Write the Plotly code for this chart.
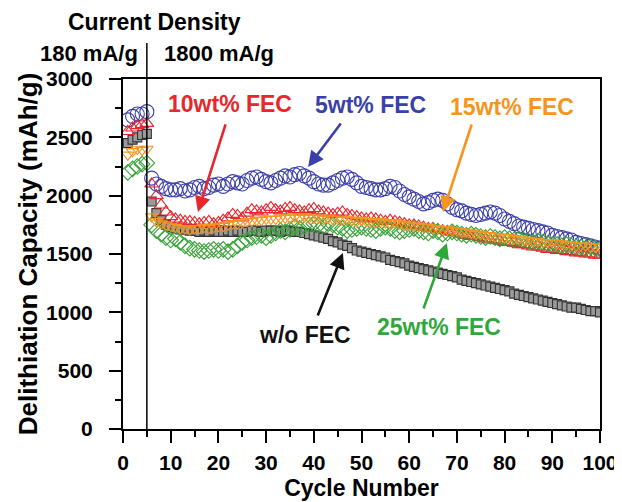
import plotly.graph_objects as go

cycles = list(range(1, 101))

wo_fec = [2450, 2480, 2500, 2520, 2530,
          1950, 1850, 1790, 1750, 1730,
          1720, 1710, 1710, 1700, 1700, 1690, 1700, 1690, 1700, 1690,
          1690, 1700, 1690, 1700, 1690, 1690, 1700, 1700, 1690, 1700,
          1700, 1700, 1690, 1700, 1700, 1690, 1690, 1680, 1670, 1660,
          1650, 1640, 1630, 1610, 1600, 1580, 1570, 1550, 1530, 1520,
          1510, 1500, 1490, 1480, 1470, 1450, 1440, 1430, 1420, 1400,
          1390, 1380, 1370, 1360, 1350, 1340, 1330, 1320, 1310, 1300,
          1280, 1270, 1260, 1250, 1240, 1230, 1220, 1210, 1200, 1190,
          1180, 1160, 1150, 1140, 1130, 1120, 1110, 1100, 1090, 1080,
          1070, 1060, 1050, 1040, 1040, 1030, 1020, 1010, 1010, 1000]

fec5 = [2650, 2680, 2700, 2700, 2720,
        2150, 2100, 2080, 2060, 2050,
        2050, 2060, 2040, 2050, 2070, 2080, 2060, 2070, 2090, 2100,
        2080, 2100, 2120, 2110, 2100, 2130, 2150, 2160, 2140, 2120,
        2110, 2130, 2150, 2170, 2160, 2180, 2190, 2170, 2150, 2120,
        2100, 2090, 2090, 2110, 2130, 2150, 2160, 2140, 2110, 2080,
        2070, 2060, 2050, 2050, 2060, 2080, 2070, 2040, 2010, 1990,
        1970, 1950, 1930, 1940, 1960, 1970, 1960, 1930, 1900, 1880,
        1870, 1850, 1840, 1830, 1840, 1850, 1860, 1850, 1830, 1800,
        1780, 1760, 1740, 1730, 1720, 1710, 1700, 1690, 1680, 1660,
        1650, 1640, 1630, 1620, 1600, 1590, 1580, 1570, 1560, 1550]

fec10 = [2550, 2580, 2600, 2610, 2620,
         2100, 2000, 1920, 1860, 1820,
         1800, 1790, 1780, 1780, 1770, 1760, 1770, 1780, 1760, 1770,
         1790, 1810, 1840, 1830, 1810, 1850, 1880, 1870, 1860, 1880,
         1900, 1880, 1870, 1890, 1900, 1880, 1870, 1860, 1880, 1890,
         1870, 1860, 1850, 1840, 1850, 1860, 1840, 1830, 1820, 1810,
         1800, 1810, 1800, 1790, 1780, 1790, 1780, 1770, 1760, 1750,
         1750, 1740, 1730, 1720, 1720, 1710, 1700, 1690, 1690, 1680,
         1670, 1660, 1650, 1650, 1640, 1630, 1620, 1620, 1610, 1600,
         1600, 1590, 1580, 1580, 1570, 1560, 1560, 1550, 1540, 1540,
         1530, 1530, 1520, 1520, 1510, 1510, 1500, 1500, 1490, 1490]

fec15 = [2350, 2380, 2400, 2390, 2400,
         1820, 1780, 1760, 1750, 1740,
         1730, 1720, 1720, 1710, 1720, 1720, 1730, 1720, 1730, 1740,
         1740, 1750, 1760, 1760, 1770, 1780, 1780, 1790, 1790, 1800,
         1800, 1800, 1810, 1810, 1810, 1820, 1810, 1820, 1810, 1810,
         1810, 1800, 1810, 1800, 1800, 1790, 1800, 1790, 1780, 1790,
         1780, 1780, 1770, 1780, 1770, 1760, 1770, 1760, 1750, 1750,
         1740, 1740, 1730, 1730, 1720, 1720, 1710, 1710, 1700, 1700,
         1690, 1690, 1680, 1670, 1670, 1660, 1660, 1650, 1650, 1640,
         1640, 1630, 1630, 1620, 1620, 1610, 1610, 1600, 1600, 1600,
         1590, 1590, 1580, 1580, 1570, 1570, 1570, 1560, 1560, 1560]

fec25 = [2200, 2230, 2250, 2270, 2280,
         1750, 1700, 1670, 1640, 1620,
         1630, 1600, 1570, 1550, 1540, 1530, 1520, 1530, 1540, 1530,
         1540, 1520, 1540, 1570, 1600, 1620, 1640, 1650, 1660, 1640,
         1660, 1680, 1700, 1690, 1710, 1730, 1720, 1740, 1750, 1760,
         1750, 1740, 1760, 1750, 1730, 1720, 1700, 1710, 1720, 1730,
         1720, 1710, 1700, 1720, 1730, 1720, 1700, 1690, 1700, 1710,
         1720, 1700, 1690, 1680, 1700, 1690, 1670, 1680, 1690, 1680,
         1670, 1660, 1670, 1660, 1650, 1640, 1650, 1640, 1630, 1640,
         1630, 1620, 1630, 1620, 1610, 1600, 1610, 1600, 1590, 1580,
         1580, 1570, 1580, 1570, 1560, 1560, 1550, 1560, 1550, 1540]

series = [
    ("w/o FEC", wo_fec, "#333333", "#9a9a9a", "square", 9),
    ("5wt% FEC", fec5, "#3b3fa8", None, "circle-open", 14),
    ("10wt% FEC", fec10, "#e8262b", None, "triangle-up-open", 12),
    ("25wt% FEC", fec25, "#3aa23a", None, "diamond-open", 12),
    ("15wt% FEC", fec15, "#f7941d", None, "triangle-down-open", 11),
]

# annotation texts: (text, colour, label x, label y, arrow tail x, tail y, head x, head y)
labels = [
    ("10wt% FEC", "#e8262b", 22.4, 2790, 21.6, 2623, 15.7, 1860),
    ("5wt% FEC", "#3b3fa8", 51.8, 2777, 45.9, 2631, 38.8, 2246),
    ("15wt% FEC", "#f7941d", 81.6, 2760, 73.2, 2623, 67.1, 1860),
    ("w/o FEC", "#111111", 38.1, 806, 40.7, 960, 46.1, 1509),
    ("25wt% FEC", "#2fa83a", 66.3, 874, 62.9, 1020, 67.9, 1594),
]

FONT = "Liberation Sans"
bold = dict(family=FONT, weight="bold")

fig = go.Figure()
for name, ys, col, fill, sym, size in series:
    fig.add_trace(go.Scatter(
        x=cycles, y=ys, mode="markers", name=name,
        marker=dict(symbol=sym, size=size, color=fill if fill else col,
                    line=dict(width=1.1, color=col)),
        showlegend=False,
    ))

# current density boundary
fig.add_shape(type="line", xref="x", yref="paper", x0=5, x1=5, y0=0, y1=1.103,
              line=dict(color="black", width=1.5))

fig.add_annotation(x=0.067, y=1.163, xref="paper", yref="paper", text="Current Density",
                   showarrow=False, xanchor="center", yanchor="middle",
                   font=dict(size=23, color="black", **bold))
fig.add_annotation(x=3.6, y=1.074, xref="x", yref="paper", text="180 mA/g",
                   showarrow=False, xanchor="right", yanchor="middle",
                   font=dict(size=22, color="black", **bold))
fig.add_annotation(x=8.2, y=1.074, xref="x", yref="paper", text="1800 mA/g",
                   showarrow=False, xanchor="left", yanchor="middle",
                   font=dict(size=22, color="black", **bold))

for text, col, tx, ty, tax, tay, hx, hy in labels:
    fig.add_annotation(x=hx, y=hy, ax=tax, ay=tay,
                       xref="x", yref="y", axref="x", ayref="y",
                       text="", showarrow=True, arrowhead=2, arrowsize=1.2,
                       arrowwidth=2.6, arrowcolor=col)
    fig.add_annotation(x=tx, y=ty, xref="x", yref="y", text=text, showarrow=False,
                       xanchor="center", yanchor="middle",
                       font=dict(size=23, color=col, **bold))

# the page body adds an 8px margin, so the figure is sized/positioned to compensate
fig.update_layout(
    width=614, height=494,
    margin=dict(l=115, r=22, t=71, b=73, autoexpand=False),
    paper_bgcolor="white", plot_bgcolor="white",
    font=dict(family=FONT, color="black", size=21, weight="bold"),
)
fig.update_xaxes(
    range=[0, 100], tickmode="array", tickvals=list(range(0, 101, 10)),
    ticks="outside", ticklen=12, tickwidth=2, tickcolor="black",
    minor=dict(tickvals=list(range(5, 100, 10)), ticks="outside", ticklen=6, tickwidth=2, tickcolor="black"),
    showline=True, linewidth=2, linecolor="black", mirror=True, showgrid=False, zeroline=False,
    tickfont=dict(size=21, family=FONT, weight="bold"), automargin=False, ticklabelstandoff=2,
    title=dict(text="Cycle Number", font=dict(size=23, family=FONT, weight="bold"), standoff=7),
)
fig.update_yaxes(
    range=[0, 3000], tickmode="array", tickvals=list(range(0, 3001, 500)),
    ticks="outside", ticklen=12, tickwidth=2, tickcolor="black",
    minor=dict(tickvals=list(range(250, 3000, 500)), ticks="outside", ticklen=6, tickwidth=2, tickcolor="black"),
    showline=True, linewidth=2, linecolor="black", mirror=True, showgrid=False, zeroline=False,
    tickfont=dict(size=21, family=FONT, weight="bold"), automargin=False, ticklabelstandoff=12,
    title=dict(text="Delithiation Capacity (mAh/g)", font=dict(size=26, family=FONT, weight="bold"), standoff=1),
)

fig.write_html("out.html")
